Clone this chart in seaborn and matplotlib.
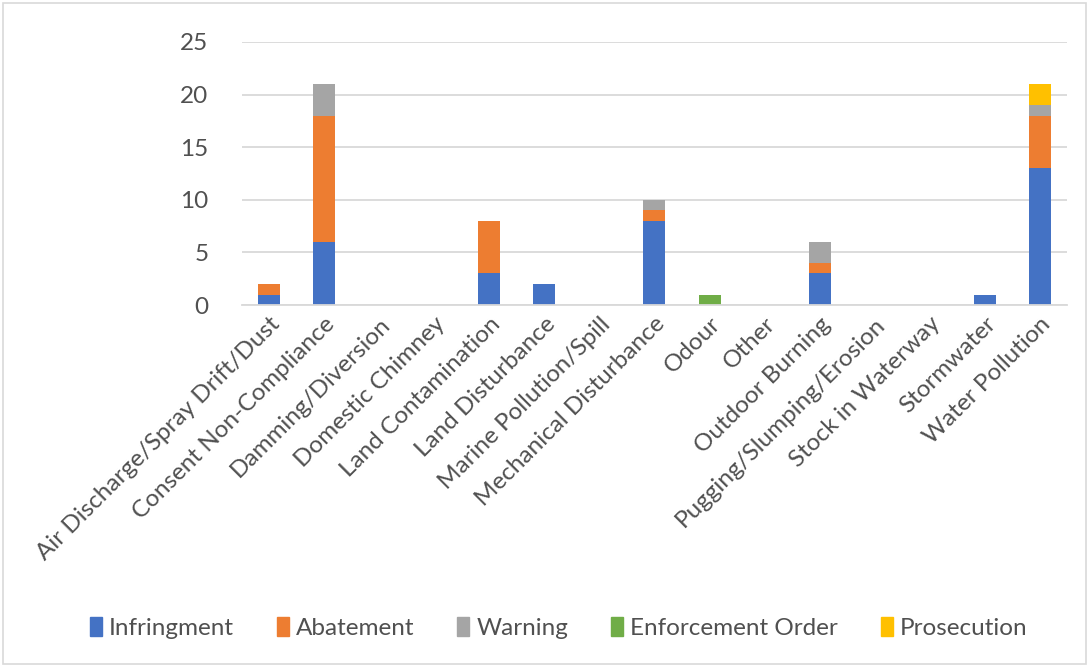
import numpy as np
import pandas as pd
import matplotlib
matplotlib.use("Agg")
import matplotlib.pyplot as plt
import matplotlib.patches as mpatches
import seaborn as sns

categories = ["Air Discharge/Spray Drift/Dust", "Consent Non-Compliance", "Damming/Diversion",
              "Domestic Chimney", "Land Contamination", "Land Disturbance", "Marine Pollution/Spill",
              "Mechanical Disturbance", "Odour", "Other", "Outdoor Burning", "Pugging/Slumping/Erosion",
              "Stock in Waterway", "Stormwater", "Water Pollution"]
infringment = [1, 6, 0, 0, 3, 2, 0, 8, 0, 0, 3, 0, 0, 1, 13]
abatement = [1, 12, 0, 0, 5, 0, 0, 1, 0, 0, 1, 0, 0, 0, 5]
warning = [0, 3, 0, 0, 0, 0, 0, 1, 0, 0, 2, 0, 0, 0, 1]
enforcement_order = [0, 0, 0, 0, 0, 0, 0, 0, 1, 0, 0, 0, 0, 0, 0]
prosecution = [0, 0, 0, 0, 0, 0, 0, 0, 0, 0, 0, 0, 0, 0, 2]
series_names = ["Infringment", "Abatement", "Warning", "Enforcement Order", "Prosecution"]
y_ticks = [0, 5, 10, 15, 20, 25]

colors = ["#4472C4", "#ED7D31", "#A5A5A5", "#70AD47", "#FFC000"]
series = [infringment, abatement, warning, enforcement_order, prosecution]

sns.set_theme(style="white")
plt.rcParams['font.family'] = ['Lato', 'DejaVu Sans']

fig = plt.figure(figsize=(10.89, 6.66), dpi=100)
ax = fig.add_axes([0.222, 0.542, 0.758, 0.395])

cum = np.cumsum(np.array(series), axis=0)
for i in range(len(series) - 1, -1, -1):
    df = pd.DataFrame({"category": categories, "value": cum[i]})
    sns.barplot(data=df, x="category", y="value", order=categories, color=colors[i],
                saturation=1, width=0.4, ax=ax, linewidth=0)

ax.set_ylim(0, 25)
ax.set_yticks(y_ticks)
ax.yaxis.grid(True, color="#D9D9D9", linewidth=1.3)
ax.set_axisbelow(True)
for s in ["top", "right", "left"]:
    ax.spines[s].set_visible(False)
ax.spines["bottom"].set_color("#D9D9D9")
ax.spines["bottom"].set_linewidth(1.3)
ax.set_xlabel("")
ax.set_ylabel("")
ax.tick_params(axis="both", length=0, labelsize=17.5, colors="#505050")
ax.tick_params(axis="y", pad=24)
ax.tick_params(axis="x", pad=6)
plt.setp(ax.get_xticklabels(), rotation=45, ha="right", rotation_mode="anchor")

handles = [mpatches.Patch(color=c, label=n) for c, n in zip(colors, series_names)]
fig.legend(handles=handles, loc="center", bbox_to_anchor=(0.513, 0.057), ncol=5, frameon=False,
           fontsize=17.5, labelcolor="#505050", handlelength=0.5, handleheight=0.8,
           handletextpad=0.3, columnspacing=1.75)

fig.add_artist(mpatches.Rectangle((0.003, 0.003), 0.994, 0.992, transform=fig.transFigure,
                                  fill=False, edgecolor="#D9D9D9", linewidth=1.2))

fig.savefig("out.png", dpi=100)
